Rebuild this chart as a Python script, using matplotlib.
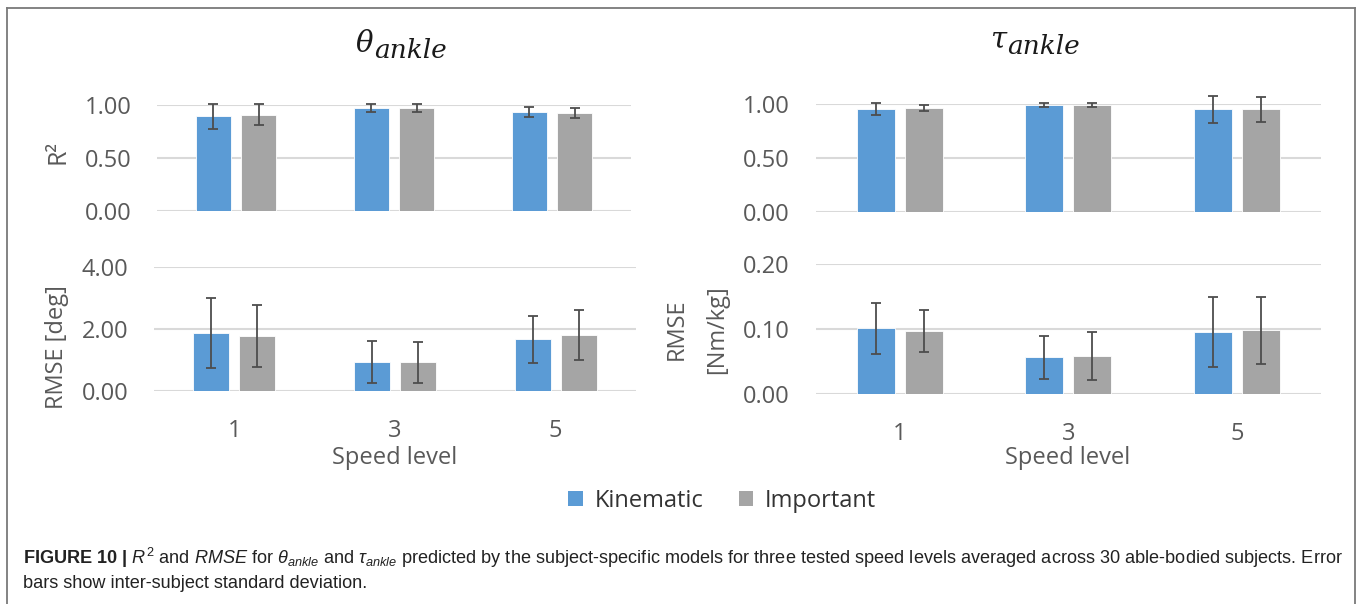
import numpy as np
import matplotlib
matplotlib.use('Agg')
import matplotlib.pyplot as plt
from matplotlib.patches import Patch
from matplotlib.lines import Line2D

# speed levels on the x axis
speed_levels = ['1', '3', '5']
series_names = ['Kinematic', 'Important']

# theta_ankle: R^2 and RMSE [deg] (mean, sd)
theta_r2_kin = [0.89, 0.97, 0.93]
theta_r2_kin_sd = [0.117, 0.037, 0.048]
theta_r2_imp = [0.907, 0.97, 0.925]
theta_r2_imp_sd = [0.096, 0.037, 0.047]
theta_rmse_kin = [1.88, 0.93, 1.67]
theta_rmse_kin_sd = [1.12, 0.675, 0.76]
theta_rmse_imp = [1.78, 0.93, 1.82]
theta_rmse_imp_sd = [1.01, 0.66, 0.80]

# tau_ankle: R^2 and RMSE [Nm/kg] (mean, sd)
tau_r2_kin = [0.951, 0.988, 0.948]
tau_r2_kin_sd = [0.057, 0.018, 0.123]
tau_r2_imp = [0.962, 0.988, 0.947]
tau_r2_imp_sd = [0.028, 0.020, 0.115]
tau_rmse_kin = [0.1015, 0.0565, 0.0955]
tau_rmse_kin_sd = [0.0395, 0.033, 0.054]
tau_rmse_imp = [0.0975, 0.058, 0.0985]
tau_rmse_imp_sd = [0.0325, 0.037, 0.0515]

BLUE = '#5B9BD5'
GRAY = '#A5A5A5'
TXT = '#595959'

plt.rcParams['font.family'] = ['Open Sans', 'DejaVu Sans']
plt.rcParams['mathtext.fontset'] = 'custom'
plt.rcParams['mathtext.rm'] = 'Liberation Sans'
plt.rcParams['mathtext.it'] = 'Liberation Sans:italic'
plt.rcParams['mathtext.bf'] = 'Liberation Sans:bold'

W, H = 1358, 604
fig = plt.figure(figsize=(W / 100, H / 100), dpi=100)


def px_axes(x0, x1, y0, y1):
    # pixel box (top-left origin) -> figure fraction axes
    return fig.add_axes([x0 / W, 1 - y1 / H, (x1 - x0) / W, (y1 - y0) / H])


def fx(x):
    return x / W


def fy(y):
    return 1 - y / H


def draw_panel(ax, kin, kin_sd, imp, imp_sd, ymax, step, show_xticks):
    x = np.arange(len(speed_levels))
    width = 0.224
    off = 0.143
    ax.bar(x - off, kin, width, color=BLUE, edgecolor='white', linewidth=0.6, zorder=2)
    ax.bar(x + off, imp, width, color=GRAY, edgecolor='white', linewidth=0.6, zorder=2)
    for xs, vals, sds in [(x - off, kin, kin_sd), (x + off, imp, imp_sd)]:
        eb = ax.errorbar(xs, vals, yerr=sds, fmt='none', ecolor='#4d4d4d',
                         elinewidth=1.3, capsize=3.6, capthick=1.3, zorder=3)
        for child in eb.get_children():
            child.set_clip_on(False)
    ax.set_xlim(-0.5, len(speed_levels) - 0.5)
    ax.set_ylim(0, ymax)
    ax.set_yticks(np.arange(0, ymax + step / 2, step))
    ax.yaxis.set_major_formatter(matplotlib.ticker.FormatStrFormatter('%.2f'))
    ax.grid(axis='y', color='#d9d9d9', linewidth=1.5)
    ax.set_axisbelow(True)
    for s in ax.spines.values():
        s.set_visible(False)
    ax.tick_params(axis='both', length=0, labelsize=17, labelcolor=TXT)
    ax.tick_params(axis='y', pad=18.5)
    ax.tick_params(axis='x', pad=20)
    ax.set_xticks(x)
    if show_xticks:
        ax.set_xticklabels(speed_levels)
    else:
        ax.set_xticklabels([])


ax1 = px_axes(157, 631, 104.7, 210.7)
draw_panel(ax1, theta_r2_kin, theta_r2_kin_sd, theta_r2_imp, theta_r2_imp_sd, 1.0, 0.5, False)
ax2 = px_axes(154, 636, 267, 391.3)
draw_panel(ax2, theta_rmse_kin, theta_rmse_kin_sd, theta_rmse_imp, theta_rmse_imp_sd, 4.0, 2.0, True)
ax3 = px_axes(815.5, 1321, 103.7, 212.3)
draw_panel(ax3, tau_r2_kin, tau_r2_kin_sd, tau_r2_imp, tau_r2_imp_sd, 1.0, 0.5, False)
ax4 = px_axes(815.5, 1321, 264.3, 394)
draw_panel(ax4, tau_rmse_kin, tau_rmse_kin_sd, tau_rmse_imp, tau_rmse_imp_sd, 0.2, 0.1, True)

# axis labels
fig.text(fx(58), fy(152), 'R²', rotation=90, ha='center', va='center', fontsize=18, color=TXT)
fig.text(fx(57), fy(347), 'RMSE [deg]', rotation=90, ha='center', va='center', fontsize=17, color=TXT)
fig.text(fx(677), fy(329), 'RMSE', rotation=90, ha='center', va='center', fontsize=17, color=TXT)
fig.text(fx(717), fy(330), '[Nm/kg]', rotation=90, ha='center', va='center', fontsize=17, color=TXT)
fig.text(fx(395), fy(458), 'Speed level', ha='center', va='center', fontsize=17, color=TXT)
fig.text(fx(1068), fy(458), 'Speed level', ha='center', va='center', fontsize=17, color=TXT)

# panel titles: symbol + italic subscript
tkw = dict(family='DejaVu Serif', style='italic', color='#1a1a1a')
fig.text(fx(373), fy(52), 'θ', ha='right', va='baseline', fontsize=21, **tkw)
fig.text(fx(374), fy(58.5), 'ankle', ha='left', va='baseline', fontsize=19, **tkw)
fig.text(fx(1006), fy(47), 'τ', ha='right', va='baseline', fontsize=21, **tkw)
fig.text(fx(1007), fy(53.5), 'ankle', ha='left', va='baseline', fontsize=19, **tkw)

# legend
handles = [Patch(facecolor=BLUE, edgecolor='none'), Patch(facecolor=GRAY, edgecolor='none')]
fig.legend(handles, series_names, loc='center', bbox_to_anchor=(fx(722), fy(501)),
           ncol=2, frameon=False, fontsize=17, handlelength=0.62, handleheight=0.62,
           handletextpad=0.5, columnspacing=1.5, labelcolor='#333333')

# frame around the chart
fc = '#7a7a7a'
fig.add_artist(Line2D([fx(7), fx(7)], [0, fy(8)], color=fc, linewidth=1.3))
fig.add_artist(Line2D([fx(1355), fx(1355)], [0, fy(8)], color=fc, linewidth=1.3))
fig.add_artist(Line2D([fx(7), fx(1355)], [fy(8), fy(8)], color=fc, linewidth=1.3))

# caption
cap1 = (r'$\mathbf{FIGURE\ 10\ |}$ $R^2$ and $RMSE$ for $\theta_{ankle}$ and $\tau_{ankle}$ '
        'predicted by the subject-specific models for three tested speed levels averaged '
        'across 30 able-bodied subjects. Error')
cap2 = 'bars show inter-subject standard deviation.'
fig.text(fx(23), fy(564), cap1, ha='left', va='baseline', fontsize=13.1,
         family='Liberation Sans', color='#222222')
fig.text(fx(23), fy(588), cap2, ha='left', va='baseline', fontsize=13.1,
         family='Liberation Sans', color='#222222')

fig.savefig('out.png', dpi=100)
